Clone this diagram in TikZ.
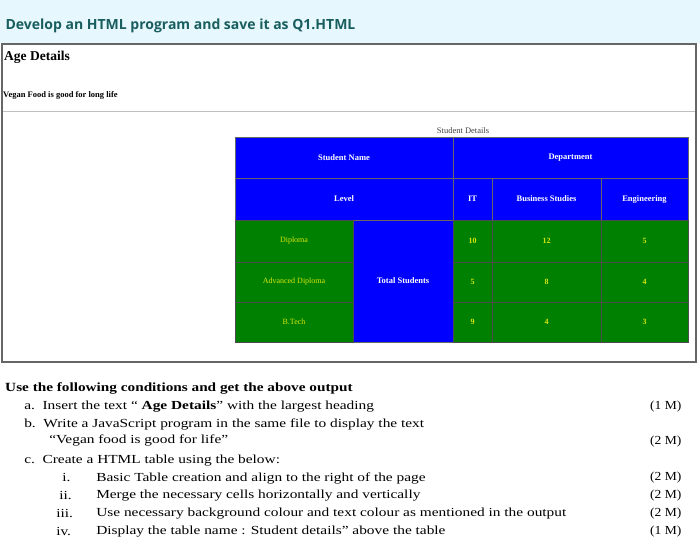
\documentclass[tikz,border=0pt]{standalone}
\usepackage{fontspec}
\setmainfont{Liberation Serif}
\newfontfamily\titlefont{Open Sans}
\begin{document}
\begin{tikzpicture}[x=1pt,y=-1pt,
 cellb/.style={fill=blue!100,draw=black!60,line width=0.4pt},
 cellg/.style={fill=green!50!black,draw=black!70,line width=0.4pt},
 wt/.style={text=white,font=\bfseries\fontsize{8.5}{9}\selectfont},
 yt/.style={text=yellow!85!green,font=\bfseries\fontsize{8}{9}\selectfont},
 q/.style={anchor=west,font=\fontsize{12.3}{13}\selectfont,inner sep=0,xscale=1.25},
 mk/.style={anchor=west,font=\fontsize{12.3}{13}\selectfont,inner sep=0,xscale=1.1}]
\useasboundingbox (0,0) rectangle (700,556);
\fill[cyan!10] (0,0) rectangle (700,43);
\node[anchor=west,text=teal!60!black!90,font=\titlefont\bfseries\fontsize{14}{15}\selectfont] (title) at (2,26) {Develop an HTML program and save it as Q1.HTML};
\draw[black!60,line width=1.2pt] (2,44) rectangle (696,362);
\node[anchor=west,inner sep=0,font=\bfseries\fontsize{13.5}{14}\selectfont] (age) at (4,57) {Age Details};
\node[anchor=west,inner sep=0,font=\bfseries\fontsize{8.5}{9}\selectfont] (vegan) at (3,95) {Vegan Food is good for long life};
\draw[black!25] (3,111) -- (695,111);
\node[font=\fontsize{8.5}{9}\selectfont,text=black!75] (cap) at (463,131) {Student Details};
% table
\draw[cellb] (235,137) rectangle (453,178) node[midway,wt] (sn) {Student Name};
\draw[cellb] (453,137) rectangle (688,178) node[midway,wt] (dep) {Department};
\draw[cellb] (235,178) rectangle (453,220) node[midway,wt] (lv) {Level};
\draw[cellb] (453,178) rectangle (492,220) node[midway,wt] (it) {IT};
\draw[cellb] (492,178) rectangle (601,220) node[midway,wt] (bs) {Business Studies};
\draw[cellb] (601,178) rectangle (688,220) node[midway,wt] (en) {Engineering};
\draw[cellb] (353,220) rectangle (453,342) node[midway,wt] (ts) {Total Students};
\foreach \ya/\yb/\a/\b/\c/\d/\n in {220/262/Diploma/10/12/5/r1,262/302/Advanced Diploma/5/8/4/r2,302/342/B.Tech/9/4/3/r3}{
 \draw[cellg] (235,\ya) rectangle (353,\yb) node[midway,yt,font=\fontsize{8}{9}\selectfont] (\n a) {\a};
 \draw[cellg] (453,\ya) rectangle (492,\yb) node[midway,yt] (\n b) {\b};
 \draw[cellg] (492,\ya) rectangle (601,\yb) node[midway,yt] (\n c) {\c};
 \draw[cellg] (601,\ya) rectangle (688,\yb) node[midway,yt] (\n d) {\d};
}
% questions
\node[anchor=west,inner sep=0,font=\bfseries\fontsize{12.5}{14}\selectfont,xscale=1.22] (h) at (5,388) {Use the following conditions and get the above output};
\node[q] (qa) at (24,407) {a.\ \ Insert the text `` \textbf{Age Details}'' with the largest heading};
\node[q] (qb) at (24,424) {b.\ \ Write a JavaScript program in the same file to display the text};
\node[q] (qb2) at (49,440) {``Vegan food is good for life''};
\node[q] (qc) at (24,461) {c.\ \ Create a HTML table using the below:};
\node[q] (q1) at (62,478) {i.};
\node[q] (q1t) at (96,478) {Basic Table creation and align to the right of the page};
\node[q] (q2) at (59,496) {ii.};
\node[q] (q2t) at (96,496) {Merge the necessary cells horizontally and vertically};
\node[q] (q3) at (56,514) {iii.};
\node[q] (q3t) at (96,514) {Use necessary background colour and text colour as mentioned in the output};
\node[q] (q4) at (56,532) {iv.};
\node[q] (q4t) at (96,532) {Display the table name : Student details'' above the table};
\node[mk] (m1) at (650,407) {(1 M)};
\node[mk] (m2) at (650,442) {(2 M)};
\node[mk] (m3) at (650,478) {(2 M)};
\node[mk] (m4) at (650,496) {(2 M)};
\node[mk] (m5) at (650,514) {(2 M)};
\node[mk] (m6) at (650,532) {(1 M)};
\end{tikzpicture}
\end{document}
